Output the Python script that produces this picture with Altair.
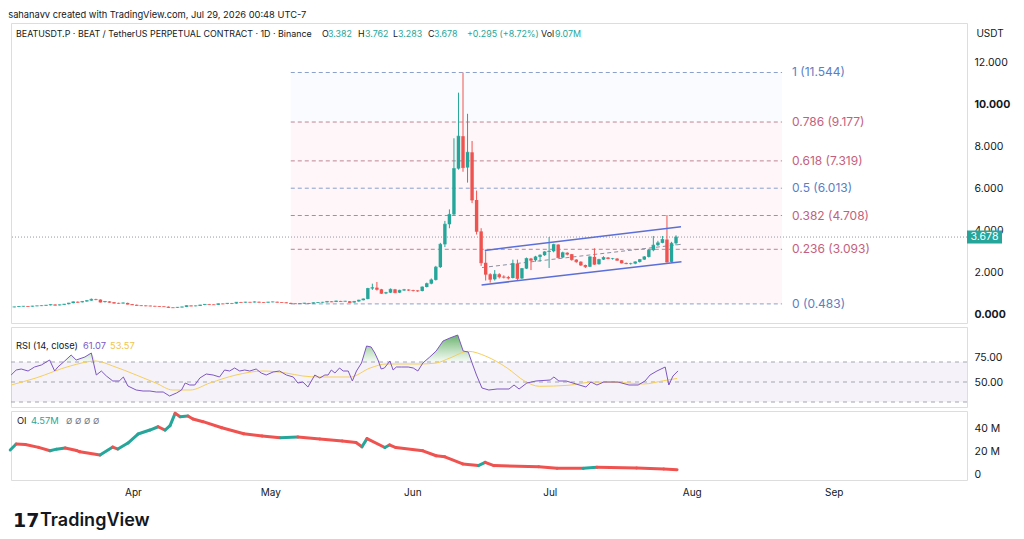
import altair as alt
import pandas as pd

START = pd.Timestamp("2026-03-05")
GREEN = "#26a69a"
RED = "#ef5350"
FONT = "Inter"
INK = "#131722"

# ---------------- price candles (daily, from 2026-03-05) ----------------
first_open = 0.33
closes = [
    .34, .36, .37, .36, .38, .39, .40, .42, .45, .42, .44, .47, .52, .58, .56, .60, .64, .70, .69, .57,
    .60, .56, .52, .51, .53, .47, .44, .41, .40, .39, .38, .37, .36, .35, .31, .30, .32, .34, .40, .38,
    .39, .43, .46, .45, .44, .49, .48, .51, .50, .56, .55, .57, .56, .58, .56, .55, .57, .58, .56, .55,
    .53, .50, .49, .50, .52, .50, .54, .55, .56, .60, .58, .62, .60, .61, .55, .60, .66, .72,
    1.22, 1.26, 1.18, 0.99, 1.02, 1.18, 1.02, 1.13, 1.16, 1.14, 1.12, 1.10,
    1.29, 1.45, 1.63, 2.24, 3.33, 4.29, 4.76, 6.95, 8.50, 7.00,
    7.73, 5.45, 3.95, 2.45, 1.90, 1.66, 1.90, 1.78, 1.76, 1.72,
    2.41, 1.70, 2.17, 2.65, 2.57, 2.73, 2.81, 2.97, 3.00, 3.32,
    2.70, 2.93, 2.86, 2.60, 2.50, 2.34, 2.26, 2.73, 2.38, 2.60,
    2.70, 2.65, 2.65, 2.57, 2.44, 2.41, 2.41, 2.49, 2.60, 2.73,
    3.05, 3.29, 3.40, 3.56, 2.49, 3.382, 3.678,
]
highs = [
    .35, .37, .38, .38, .39, .40, .41, .43, .46, .46, .45, .48, .53, .60, .60, .62, .66, .74, .73, .70,
    .62, .61, .57, .54, .55, .54, .48, .45, .42, .41, .40, .39, .38, .37, .36, .32, .33, .35, .41, .41,
    .40, .44, .47, .48, .46, .50, .50, .52, .53, .57, .58, .58, .58, .60, .59, .57, .58, .59, .59, .57,
    .56, .54, .51, .52, .53, .53, .55, .57, .58, .61, .61, .64, .63, .63, .62, .62, .68, .74,
    1.25, 1.45, 1.53, 1.20, 1.06, 1.22, 1.20, 1.16, 1.20, 1.18, 1.16, 1.14,
    1.32, 1.50, 1.70, 2.30, 3.40, 4.45, 5.00, 8.40, 10.58, 11.544,
    9.57, 8.27, 5.90, 4.10, 3.00, 1.95, 2.10, 1.95, 1.85, 1.82,
    2.60, 2.60, 2.20, 2.70, 2.68, 2.78, 2.85, 3.00, 3.68, 3.36,
    3.33, 2.98, 2.95, 2.87, 2.62, 2.52, 2.36, 2.76, 3.14, 2.64,
    2.76, 2.72, 2.68, 2.67, 2.58, 2.46, 2.45, 2.52, 2.63, 2.77,
    3.10, 3.73, 3.50, 3.73, 4.73, 3.45, 3.762,
]
lows = [
    .32, .33, .35, .35, .35, .37, .38, .39, .41, .41, .41, .43, .46, .51, .54, .55, .59, .63, .66, .55,
    .55, .54, .50, .49, .50, .46, .43, .40, .38, .37, .37, .36, .35, .34, .30, .29, .29, .31, .33, .37,
    .37, .38, .42, .44, .43, .43, .47, .47, .49, .49, .54, .54, .55, .55, .55, .54, .54, .56, .55, .54,
    .52, .49, .483, .49, .49, .49, .495, .53, .54, .55, .57, .57, .59, .59, .54, .54, .59, .65,
    0.70, 1.15, 1.12, 0.96, 0.95, 1.00, 1.00, 1.00, 1.10, 1.10, 1.08, 1.06,
    1.08, 1.27, 1.42, 1.60, 2.20, 3.20, 4.10, 4.70, 6.90, 6.80,
    6.28, 5.30, 3.80, 2.30, 1.60, 1.50, 1.60, 1.70, 1.70, 1.65,
    1.70, 1.62, 1.68, 2.15, 2.10, 2.50, 2.50, 2.78, 2.20, 2.95,
    2.65, 2.68, 2.80, 2.55, 2.45, 2.30, 2.20, 2.24, 2.35, 2.36,
    2.58, 2.62, 2.60, 2.55, 2.42, 2.38, 2.36, 2.38, 2.46, 2.58,
    2.70, 3.00, 3.25, 3.38, 2.45, 2.45, 3.283,
]
last_price = 3.678

# ---------------- fibonacci retracement ----------------
fib_ratio = ["0", "0.236", "0.382", "0.5", "0.618", "0.786", "1"]
fib_price = [0.483, 3.093, 4.708, 6.013, 7.319, 9.177, 11.544]
fib_text_color = ["#5a7ec4", "#c4607e", "#c4607e", "#5a7ec4", "#c4607e", "#c4607e", "#5a7ec4"]
fib_line_color = ["#8aa0cc", "#be8496", "#be8496", "#8aa0cc", "#be8496", "#be8496", "#8aa0cc"]
fib_start_day, fib_end_day = 61.0, 169.4

# ---------------- channel ----------------
chan_name = ["upper", "middle", "lower"]
chan_day0 = [103.8, 103.2, 103.1]
chan_p0 = [3.04, 2.22, 1.39]
chan_day1 = [147.1, 147.1, 147.2]
chan_p1 = [4.17, 3.33, 2.50]

# ---------------- RSI (14) and its MA ----------------
rsi_day = [0.4, 1.5, 2.6, 4.1, 5.5, 7.0, 8.8, 9.9, 10.6, 12.1, 13.5, 14.6, 16.5, 17.9, 19.0, 20.1, 21.2,
           22.6, 24.0, 24.9, 25.9, 27.7, 29.2, 30.7, 32.1, 33.6, 35.0, 36.5, 37.6, 38.4, 39.4, 40.5, 41.6,
           43.0, 44.5, 45.9, 47.0, 48.1, 49.2, 50.3, 51.4, 52.5, 53.9, 55.0, 56.1, 57.6, 59.0, 60.5, 62.0,
           63.0, 64.1, 65.2, 66.7, 67.8, 68.9, 69.6, 70.3, 71.1, 72.1, 72.9, 74.0, 74.9, 75.8, 76.9, 78.0,
           79.0, 79.8, 80.5, 81.2, 81.9, 83.1, 83.8, 84.5, 85.6, 87.1, 88.2, 89.2, 90.3, 91.8, 93.2, 94.7,
           96.2, 97.9, 99.1, 100.2, 101.2, 102.0, 103.2, 104.7, 106.5, 109.1, 110.2, 111.3, 113.0, 115.0,
           118.1, 118.9, 120.0, 121.6, 125.9, 127.0, 128.3, 129.8, 131.4, 132.9, 135.3, 137.3, 138.8, 139.9,
           141.4, 143.2, 144.0, 144.9, 146.0]
rsi_val = [57, 62, 63, 61, 65, 67, 72, 61, 65, 71, 77, 72, 75, 79, 57, 61, 56,
           51, 51, 55, 46, 42, 41, 41, 40, 40, 36, 39, 42, 49, 47, 47, 54,
           58, 57, 55, 62, 61, 64, 61, 62, 61, 63, 59, 57, 60, 61, 57, 55,
           49, 50, 45, 57, 54, 57, 57, 62, 59, 64, 61, 61, 51, 61, 69, 86,
           85, 79, 72, 63, 64, 71, 62, 65, 65, 65, 64, 61, 69, 75, 81, 91,
           94, 97, 81, 80, 67, 57, 44, 42, 43, 43, 47, 43, 49, 51,
           52, 55, 51, 51, 45, 50, 47, 50, 50, 50, 47, 47, 51, 57,
           61, 65, 47, 56, 61.07]
ma_day = [0.4, 5.8, 13.3, 18.9, 22.6, 27.7, 32.0, 35.7, 39.5, 43.8, 49.5, 55.4, 60.4, 64.1, 67.8, 74.4,
          78.8, 82.3, 89.7, 93.2, 96.2, 100.2, 104.1, 108.7, 112.6, 115.7, 122.0, 127.5, 135.3, 138.4,
          142.9, 145.8]
ma_val = [47, 54, 66, 71, 66, 57, 49, 42, 42, 49, 57, 61, 59, 56, 55, 55,
          64, 68, 68, 69, 74, 80.7, 75.7, 64, 50.7, 45.7, 46.7, 50, 49, 48,
          51.3, 53.57]
rsi_levels = [30, 50, 70]

# ---------------- Open interest (millions) ----------------
oi_day = [0.2, 1.5, 3.5, 6.4, 8.9, 10.3, 12.2, 14.7, 15.4, 19.8, 22.6, 23.7, 25.9, 28.1, 30.7, 32.5,
          34.0, 35.1, 36.2, 37.3, 39.0, 40.1, 42.3, 46.4, 51.2, 55.2, 59.1, 63.0, 67.8, 72.7, 75.7, 77.0,
          78.1, 82.0, 83.0, 84.4, 90.3, 93.2, 95.1, 99.0, 102.4, 103.9, 105.8, 115.6, 119.6, 125.3, 128.3,
          137.0, 142.9, 145.8]
oi_val = [21.3, 26.4, 26.0, 23.5, 20.7, 22.0, 23.0, 20.8, 19.8, 17.0, 23.8, 22.1, 27.2, 34.9, 38.3, 41.1,
          38.3, 42.0, 52.5, 49.6, 50.2, 47.7, 45.4, 40.2, 35.1, 33.2, 31.8, 32.3, 30.7, 29.0, 27.6, 24.0,
          31.0, 23.4, 25.6, 23.4, 20.6, 16.4, 15.5, 9.4, 8.0, 10.8, 8.0, 7.1, 5.7, 5.7, 6.6,
          6.0, 5.2, 4.57]

DOMAIN_DAYS = [0.37, 209.1]


def ts(day):
    return (START + pd.to_timedelta(day, unit="D")).strftime("%Y-%m-%dT%H:%M:%SZ")


def ms(day):
    return int((START + pd.to_timedelta(day, unit="D")).value // 10**6)


W = 956
ONE = pd.DataFrame({"k": [0]})
xscale = alt.Scale(type="utc", domain=[ms(DOMAIN_DAYS[0]), ms(DOMAIN_DAYS[1])])
X = alt.X("date:T", scale=xscale, axis=None)


def label(text, xp, yp, color=INK, size=9.3, align="left", weight="normal", font=FONT):
    return alt.Chart(ONE).mark_text(align=align, baseline="middle", fontSize=size, font=font,
                                    fontWeight=weight, color=color).encode(
        x=alt.value(xp), y=alt.value(yp), text=alt.value(text))


opens = [first_open] + closes[:-1]
candles = pd.DataFrame({
    "date": [ts(i) for i in range(len(closes))],
    "open": opens, "high": highs, "low": lows, "close": closes,
})
candle_color = alt.condition("datum.close >= datum.open", alt.value(GREEN), alt.value(RED))

ps = alt.Scale(domain=[-0.43, 13.91], nice=False, zero=False)
price_axis = alt.Axis(
    orient="right", values=[0, 2, 4, 6, 8, 10, 12], format=".3f", grid=False, ticks=False,
    domain=False, labelPadding=7, labelFontSize=10.5, labelColor=INK, labelFont=FONT,
    labelFontWeight={"condition": {"test": "datum.value === 10 || datum.value === 0", "value": "bold"},
                     "value": "normal"},
    title=None,
)

base = alt.Chart(candles)
wicks = base.mark_rule(strokeWidth=1).encode(
    x=X, y=alt.Y("low:Q", scale=ps, axis=price_axis), y2="high:Q", color=candle_color)
bodies = base.mark_bar(width=3.4).encode(x=X, y="open:Q", y2="close:Q", color=candle_color)
flat = base.mark_tick(orient="horizontal", size=3.4, thickness=1).encode(x=X, y="close:Q", color=candle_color)

fib_df = pd.DataFrame({
    "ratio": fib_ratio, "price": fib_price, "tcol": fib_text_color, "lcol": fib_line_color,
    "x0": ts(fib_start_day), "x1": ts(fib_end_day),
})
fib_df["label"] = fib_df["ratio"] + " (" + fib_df["price"].map(lambda v: f"{v:.3f}") + ")"

bg_df = pd.DataFrame({
    "x0": ts(fib_start_day), "x1": ts(fib_end_day),
    "lo": [fib_price[0], fib_price[5]], "hi": [fib_price[5], fib_price[6]],
    "col": ["#fef6f8", "#fafbfe"],
})
fib_bg = alt.Chart(bg_df).mark_rect().encode(
    x=alt.X("x0:T", scale=xscale, axis=None), x2="x1:T",
    y=alt.Y("lo:Q", scale=ps), y2="hi:Q", color=alt.Color("col:N", scale=None))
fib_lines = alt.Chart(fib_df).mark_rule(strokeDash=[4, 3], strokeWidth=1).encode(
    x=alt.X("x0:T", scale=xscale, axis=None), x2="x1:T",
    y=alt.Y("price:Q", scale=ps), color=alt.Color("lcol:N", scale=None))
fib_labels = alt.Chart(fib_df).mark_text(align="left", baseline="middle", dx=10, fontSize=12, font=FONT).encode(
    x=alt.X("x1:T", scale=xscale, axis=None), y=alt.Y("price:Q", scale=ps),
    text="label:N", color=alt.Color("tcol:N", scale=None))

chan_df = pd.DataFrame({
    "name": chan_name, "d0": [ts(d) for d in chan_day0], "d1": [ts(d) for d in chan_day1],
    "p0": chan_p0, "p1": chan_p1,
})
chan_solid = alt.Chart(chan_df).transform_filter("datum.name != 'middle'").mark_rule(
    strokeWidth=1.5, color="#5b6fd8").encode(
    x=alt.X("d0:T", scale=xscale, axis=None), x2="d1:T", y=alt.Y("p0:Q", scale=ps), y2="p1:Q")
chan_mid = alt.Chart(chan_df).transform_filter("datum.name == 'middle'").mark_rule(
    strokeWidth=1, color="#8d8fa0", strokeDash=[4, 3]).encode(
    x=alt.X("d0:T", scale=xscale, axis=None), x2="d1:T", y=alt.Y("p0:Q", scale=ps), y2="p1:Q")

last_line = alt.Chart(ONE).mark_rule(strokeDash=[1, 2], color="#9598a1").encode(
    y=alt.datum(last_price, scale=ps))
tag = alt.Chart(ONE).mark_rule(strokeWidth=13, color=GREEN).encode(
    x=alt.value(956), x2=alt.value(991), y=alt.datum(last_price, scale=ps))
tag_text = alt.Chart(ONE).mark_text(color="white", fontSize=10.5, font=FONT, baseline="middle").encode(
    x=alt.value(973.5), y=alt.datum(last_price, scale=ps), text=alt.value(f"{last_price:.3f}"))

HS = 8.9
head_layers = [
    label("BEATUSDT.P · BEAT / TetherUS PERPETUAL CONTRACT · 1D · Binance", 5, 11, size=HS),
    label("O", 311, 11, size=HS), label("3.382", 317, 11, GREEN, size=HS),
    label("H", 347, 11, size=HS), label("3.762", 354, 11, GREEN, size=HS),
    label("L", 382, 11, size=HS), label("3.283", 387, 11, GREEN, size=HS),
    label("C", 417, 11, size=HS), label("3.678", 423, 11, GREEN, size=HS),
    label("+0.295 (+8.72%)", 456, 11, GREEN, size=HS),
    label("Vol", 530, 11, size=HS), label("9.07M", 544, 11, GREEN, size=HS),
    label("USDT", 979, 11, size=10, align="center"),
]

price_panel = alt.layer(
    fib_bg, fib_lines, fib_labels, last_line, chan_mid, wicks, bodies, flat, chan_solid,
    tag, tag_text, *head_layers,
).properties(width=W, height=300)

# ---------------- RSI panel ----------------
rs = alt.Scale(domain=[25, 105], nice=False, zero=False)
rsi_df = pd.DataFrame({"date": [ts(d) for d in rsi_day], "rsi": rsi_val})
rsi_df["hi"] = rsi_df["rsi"].clip(lower=70)
ma_df = pd.DataFrame({"date": [ts(d) for d in ma_day], "ma": ma_val})
band_df = pd.DataFrame({"lvl": rsi_levels})
rsi_axis = alt.Axis(orient="right", values=[50, 75], format=".2f", grid=False, ticks=False, domain=False,
                    labelPadding=7, labelFontSize=10.5, labelColor=INK, labelFont=FONT, title=None)

rsi_band = alt.Chart(ONE).mark_rect(color="#7e57c2", opacity=0.08).encode(
    y=alt.datum(rsi_levels[0], scale=rs), y2=alt.datum(rsi_levels[2]))
rsi_lvls = alt.Chart(band_df).mark_rule(strokeDash=[4, 4], color="#a3a6af").encode(
    y=alt.Y("lvl:Q", scale=rs, axis=rsi_axis))
grad = alt.LinearGradient(
    gradient="linear",
    stops=[alt.GradientStop(color="rgba(76,175,80,0.05)", offset=0),
           alt.GradientStop(color="rgba(56,150,60,0.75)", offset=1)],
    x1=0, x2=0, y1=1, y2=0)
rsi_fill = alt.Chart(rsi_df).mark_area(color=grad).encode(
    x=X, y=alt.Y("hi:Q", scale=rs), y2=alt.datum(70))
rsi_line = alt.Chart(rsi_df).mark_line(color="#7e57c2", strokeWidth=1).encode(x=X, y=alt.Y("rsi:Q", scale=rs))
ma_line = alt.Chart(ma_df).mark_line(color="#f5cf5a", strokeWidth=1, interpolate="monotone").encode(
    x=X, y=alt.Y("ma:Q", scale=rs))
rsi_txt_layers = [
    label("RSI (14, close)", 5, 19),
    label("61.07", 72, 19, "#7e57c2"),
    label("53.57", 99, 19, "#f0c44a"),
]
rsi_panel = alt.layer(rsi_band, rsi_lvls, rsi_fill, ma_line, rsi_line, *rsi_txt_layers).properties(
    width=W, height=80)

# ---------------- OI panel ----------------
os_ = alt.Scale(domain=[-4.26, 54.5], nice=False, zero=False)
seg = pd.DataFrame({
    "date": [ts(d) for d in oi_day[:-1]], "date2": [ts(d) for d in oi_day[1:]],
    "v": oi_val[:-1], "v2": oi_val[1:],
})
seg["col"] = [GREEN if b > a else RED for a, b in zip(oi_val[:-1], oi_val[1:])]
oi_axis = alt.Axis(orient="right", values=[0, 20, 40], grid=False, ticks=False, domain=False,
                   labelExpr="datum.value == 0 ? '0' : datum.value + ' M'",
                   labelPadding=7, labelFontSize=10.5, labelColor=INK, labelFont=FONT, title=None)
x_axis = alt.Axis(format="%b", tickCount="month", grid=False, ticks=False, domain=False, labelPadding=7,
                  labelFontSize=10, labelColor=INK, labelFont=FONT, title=None, labelFlush=False)
oi_lines = alt.Chart(seg).mark_rule(strokeWidth=3, strokeCap="round").encode(
    x=alt.X("date:T", scale=xscale, axis=x_axis), x2="date2:T",
    y=alt.Y("v:Q", scale=os_, axis=oi_axis), y2="v2:Q", color=alt.Color("col:N", scale=None))
oi_txt_layers = [
    label("OI", 6, 10),
    label("4.57M", 20, 10, GREEN),
    label("∅  ∅  ∅  ∅", 55, 10, "#787b86"),
    label("17", 2, 110, size=19, weight=900, font="DejaVu Sans"),
    label("TradingView", 29, 110, size=18, weight=600),
]
oi_panel = alt.layer(oi_lines, *oi_txt_layers).properties(width=W, height=69)

chart = alt.vconcat(price_panel, rsi_panel, oi_panel, spacing=2).properties(
    title=alt.TitleParams("sahanavv created with TradingView.com, Jul 29, 2026 00:48 UTC-7",
                          anchor="start", fontSize=9.3, font=FONT, fontWeight="normal",
                          color=INK, offset=2),
    padding={"top": 3, "left": 0, "right": 0, "bottom": 0},
).configure_view(stroke="#e0e3eb", strokeWidth=1).configure(background="white")

chart.save("out.html", embed_options={"renderer": "svg", "actions": False})
